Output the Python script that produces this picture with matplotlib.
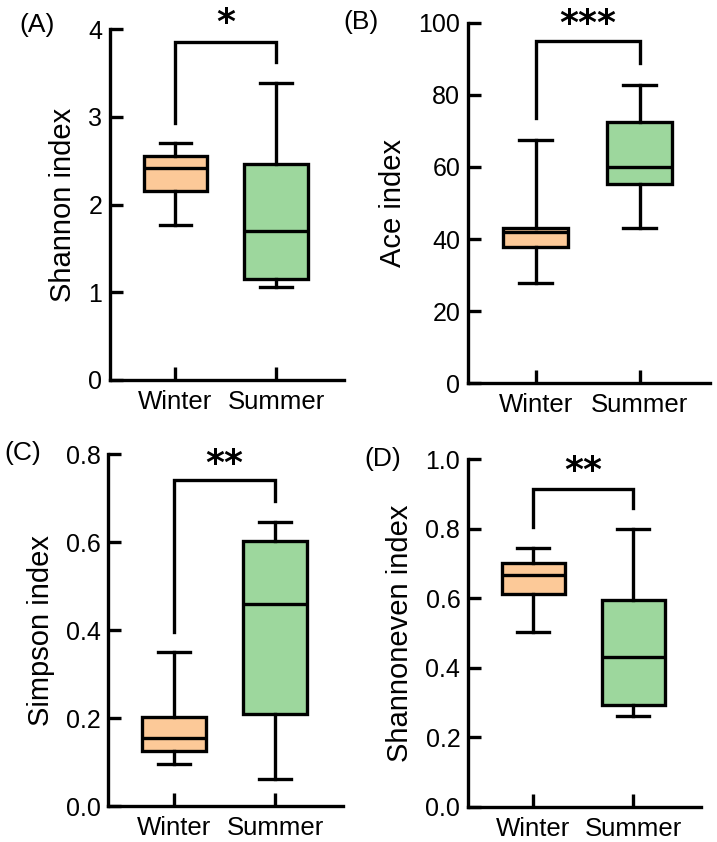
import matplotlib
matplotlib.use("Agg")
import matplotlib.pyplot as plt

plt.rcParams['font.family'] = ['Liberation Sans', 'DejaVu Sans']

groups = ['Winter', 'Summer']
colors = ['#FCC998', '#9DD79D']

# box stats: whislo, q1, med, q3, whishi
shannon_w = [1.77, 2.15, 2.42, 2.56, 2.70]
shannon_s = [1.06, 1.15, 1.70, 2.46, 3.39]
ace_w = [27.9, 37.9, 42.0, 43.2, 67.5]
ace_s = [43.0, 55.3, 60.1, 72.6, 82.7]
simpson_w = [0.096, 0.124, 0.154, 0.203, 0.350]
simpson_s = [0.062, 0.209, 0.459, 0.603, 0.647]
even_w = [0.504, 0.613, 0.666, 0.703, 0.746]
even_s = [0.262, 0.292, 0.432, 0.594, 0.799]

# bracket: top, left leg end, right leg end, star y
br_a = [3.86, 2.93, 3.63, 4.07]
br_b = [94.8, 73.5, 88.9, 99.6]
br_c = [0.741, 0.396, 0.694, 0.779]
br_d = [0.915, 0.805, 0.859, 0.966]

W, H = 717, 842
fig = plt.figure(figsize=(W / 100, H / 100), dpi=100)

def px_axes(l, b, r, t):
    return fig.add_axes([l / W, 1 - b / H, (r - l) / W, (b - t) / H])

lw = 2.4

panels = [
    ('(A)', (110, 380, 344, 29.3), shannon_w, shannon_s, br_a, '*', 'Shannon index', (0, 4), [0, 1, 2, 3, 4], '{:.0f}', (37, 25)),
    ('(B)', (468, 383.3, 709.7, 22.7), ace_w, ace_s, br_b, '***', 'Ace index', (0, 100), [0, 20, 40, 60, 80, 100], '{:.0f}', (361, 22)),
    ('(C)', (108.3, 806, 343.3, 454.3), simpson_w, simpson_s, br_c, '**', 'Simpson index', (0, 0.8), [0, 0.2, 0.4, 0.6, 0.8], '{:.1f}', (23, 453)),
    ('(D)', (468, 807, 700.7, 459.3), even_w, even_s, br_d, '**', 'Shannoneven index', (0, 1.0), [0, 0.2, 0.4, 0.6, 0.8, 1.0], '{:.1f}', (383, 459)),
]

for tag, rect, sw, ss, br, stars, ylabel, ylim, yticks, fmt, tagpos in panels:
    ax = px_axes(*rect)
    stats = []
    for name, s in zip(groups, [sw, ss]):
        stats.append(dict(label=name, whislo=s[0], q1=s[1], med=s[2], q3=s[3], whishi=s[4], fliers=[]))
    bp = ax.bxp(stats, positions=[0, 1], widths=0.63, patch_artist=True, showfliers=False,
                boxprops=dict(linewidth=lw, edgecolor='black'),
                medianprops=dict(color='black', linewidth=lw),
                whiskerprops=dict(linewidth=lw), capprops=dict(linewidth=lw),
                capwidths=0.315)
    for patch, c in zip(bp['boxes'], colors):
        patch.set_facecolor(c)

    ax.plot([0, 0, 1, 1], [br[1], br[0], br[0], br[2]], color='black', lw=lw,
            clip_on=False, solid_joinstyle='miter')
    ax.text(0.5, br[3], stars, ha='center', va='center', fontsize=26,
            fontweight='bold', family='DejaVu Sans')

    ax.set_xlim(-0.65, 1.675)
    ax.set_ylim(*ylim)
    ax.set_yticks(yticks)
    ax.set_yticklabels([fmt.format(v) for v in yticks])
    ax.set_xticks([0, 1])
    ax.set_xticklabels(groups)
    for sp in ['top', 'right']:
        ax.spines[sp].set_visible(False)
    for sp in ['left', 'bottom']:
        ax.spines[sp].set_linewidth(lw)
    ax.tick_params(direction='in', length=9.5, width=lw, labelsize=18, pad=5.5)
    ax.tick_params(axis='x', pad=7, labelsize=18.5)
    ax.set_ylabel(ylabel, fontsize=21, labelpad=8)
    fig.text(tagpos[0] / W, 1 - tagpos[1] / H, tag, ha='center', va='center', fontsize=19)

fig.savefig('out.png', dpi=100)
